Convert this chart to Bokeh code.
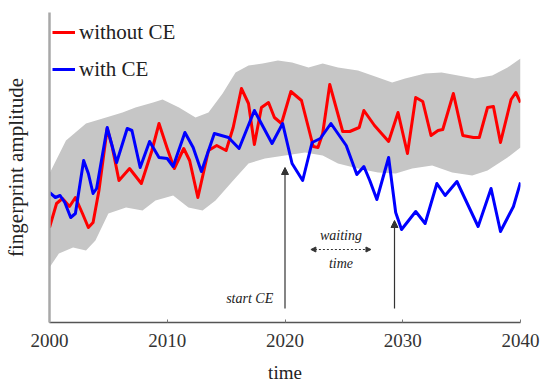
from bokeh.plotting import figure
from bokeh.models import Range1d, FixedTicker, Legend, LegendItem, Arrow, NormalHead, Label
from bokeh.embed import file_html
from bokeh.resources import INLINE

# ---------------- data ----------------
red_years = [2000.0, 2000.6, 2001.1, 2001.7, 2002.2, 2002.8, 2003.3, 2003.7, 2004.2, 2004.9,
             2005.3, 2005.9, 2006.8, 2007.8, 2008.7, 2009.3, 2010.0, 2010.6, 2011.4, 2011.9,
             2012.6, 2013.5, 2014.2, 2015.0, 2015.6, 2016.3, 2016.9, 2017.4, 2018.0, 2018.6,
             2019.1, 2019.7, 2020.5, 2021.4, 2022.4, 2022.8, 2023.2, 2023.8, 2024.9, 2025.5,
             2026.3, 2026.7, 2027.6, 2028.8, 2029.6, 2030.4, 2031.1, 2031.7, 2032.4, 2033.0,
             2033.4, 2034.3, 2035.1, 2036.0, 2036.5, 2037.2, 2037.7, 2038.3, 2039.2, 2039.6,
             2040.0]
red_vals = [9.5, 11.9, 12.4, 11.6, 12.5, 10.9, 9.5, 10.0, 13.2, 19.4,
            17.7, 14.2, 15.4, 13.9, 17.2, 19.9, 17.4, 15.4, 17.4, 16.2,
            12.5, 17.2, 17.7, 17.2, 19.5, 23.4, 21.9, 17.8, 21.5, 22.0,
            20.5, 19.9, 23.1, 22.2, 17.6, 17.5, 18.9, 23.8, 19.1, 19.1,
            19.5, 21.2, 19.7, 18.1, 21.0, 16.9, 22.5, 22.1, 18.7, 19.2,
            19.3, 22.9, 18.7, 18.5, 18.5, 21.5, 21.6, 18.0, 22.3, 23.0,
            22.0]

blue_years = [2000.0, 2000.5, 2000.9, 2001.3, 2001.8, 2002.2, 2002.9, 2003.3, 2003.7, 2004.0,
              2004.9, 2005.7, 2006.6, 2007.0, 2007.7, 2008.5, 2009.3, 2010.0, 2010.5, 2011.5,
              2012.2, 2012.9, 2014.0, 2015.2, 2016.1, 2017.4, 2018.9, 2019.8, 2020.6, 2021.5,
              2022.3, 2023.0, 2023.9, 2025.2, 2026.1, 2026.7, 2027.2, 2027.8, 2028.8, 2029.4,
              2029.9, 2031.1, 2031.9, 2032.9, 2033.6, 2034.6, 2036.4, 2037.5, 2038.3, 2039.4,
              2040.0]
blue_vals = [13.0, 12.5, 12.7, 12.0, 10.5, 10.9, 16.2, 14.9, 12.9, 13.4,
             19.5, 16.0, 19.4, 19.2, 15.5, 18.1, 16.5, 16.4, 15.6, 19.0,
             17.5, 15.1, 18.9, 18.5, 17.4, 21.2, 17.9, 19.9, 15.9, 14.2,
             18.0, 18.4, 19.9, 17.7, 14.8, 15.6, 14.2, 12.3, 16.5, 11.0,
             9.3, 11.1, 9.9, 13.9, 12.7, 14.1, 9.6, 13.4, 9.1, 11.6,
             14.0]

band_upper_years = [2000.0, 2001.4, 2003.1, 2004.8, 2006.2, 2007.3, 2008.8, 2009.6, 2011.0, 2012.4,
                    2013.5, 2014.7, 2015.8, 2016.9, 2018.1, 2019.4, 2020.6, 2022.0, 2023.2, 2024.5,
                    2026.2, 2027.9, 2029.1, 2030.2, 2031.9, 2033.3, 2034.7, 2036.1, 2037.6, 2038.9,
                    2040.0]
band_upper = [14.9, 18.2, 19.9, 20.5, 21.0, 21.5, 22.0, 22.3, 21.5, 20.5,
              21.0, 22.9, 25.0, 25.7, 25.9, 26.2, 26.0, 25.5, 25.9, 25.5,
              25.2, 24.5, 24.0, 24.4, 24.9, 25.0, 24.7, 24.4, 24.7, 25.5,
              26.4]

band_lower_years = [2000.0, 2000.8, 2002.0, 2003.1, 2003.9, 2005.0, 2006.5, 2007.9, 2009.0, 2010.5,
                    2011.8, 2013.0, 2014.1, 2015.6, 2016.9, 2018.3, 2020.0, 2021.7, 2023.2, 2024.5,
                    2026.2, 2027.9, 2029.4, 2030.8, 2032.5, 2034.2, 2035.9, 2037.2, 2038.9, 2040.0]
band_lower = [5.5, 6.9, 7.5, 7.2, 8.2, 10.9, 11.5, 11.2, 12.2, 12.7,
              11.5, 11.2, 12.2, 14.2, 15.9, 16.4, 16.7, 17.0, 16.7, 15.9,
              15.4, 15.0, 14.9, 15.4, 15.7, 15.0, 14.7, 15.2, 16.5, 17.5]

x_ticks = [2000, 2010, 2020, 2030, 2040]
series_labels = ["without CE", "with CE"]

ce_start_year = 2020.0
detect_year = 2029.3
arrow_base = 1.4
ce_arrow_top = 15.5
detect_arrow_top = 10.2
wait_arrow_y = 7.3
wait_arrow_x = [2022.2, 2027.3]

SERIF = "Liberation Serif"

# ---------------- figure ----------------
p = figure(width=541, height=385, output_backend="svg", toolbar_location=None,
           x_range=Range1d(2000, 2040), y_range=Range1d(0, 31),
           min_border_left=48, min_border_right=21, min_border_top=12, min_border_bottom=63)
p.outline_line_color = None
p.xgrid.visible = False
p.ygrid.visible = False
p.background_fill_color = "white"

# band
p.patch(band_upper_years + band_lower_years[::-1], band_upper + band_lower[::-1],
        fill_color="#c6c6c6", line_color=None)

r_red = p.line(red_years, red_vals, line_color="#ff0000", line_width=3, line_join="round")
r_blue = p.line(blue_years, blue_vals, line_color="#0000ff", line_width=3, line_join="round")

# axes
xa = p.xaxis[0]
xa.ticker = FixedTicker(ticks=x_ticks)
xa.axis_line_color = "#555555"
xa.axis_line_width = 1.5
xa.major_tick_line_color = "#777777"
xa.major_tick_in = 3
xa.major_tick_out = 0
xa.minor_tick_line_color = None
xa.major_label_text_font = SERIF
xa.major_label_text_font_size = "19px"
xa.major_label_text_color = "#333333"
xa.major_label_standoff = 11
xa.axis_label = "time"
xa.axis_label_text_font = SERIF
xa.axis_label_text_font_size = "19px"
xa.axis_label_text_font_style = "normal"
xa.axis_label_text_color = "#222222"
xa.axis_label_standoff = 12

ya = p.yaxis[0]
ya.ticker = FixedTicker(ticks=[])
ya.axis_line_color = "#a8a8a8"
ya.axis_line_width = 2.5
ya.major_tick_line_color = None
ya.minor_tick_line_color = None
ya.major_label_text_font_size = "0px"
ya.major_label_standoff = 0
ya.axis_label = "fingerprint amplitude"
ya.axis_label_text_font = SERIF
ya.axis_label_text_font_size = "21px"
ya.axis_label_text_font_style = "normal"
ya.axis_label_text_color = "#222222"
ya.axis_label_standoff = 22

# legend
legend = Legend(items=[LegendItem(label=series_labels[0], renderers=[r_red]),
                       LegendItem(label=series_labels[1], renderers=[r_blue])],
                location=(3, 239), margin=0, padding=8, spacing=9,
                label_height=28, glyph_height=28, glyph_width=23, label_standoff=4,
                label_text_font=SERIF, label_text_font_size="21px", label_text_color="#222222",
                border_line_color=None, background_fill_alpha=0)
p.add_layout(legend)

# annotations
ann_col = "#333333"
p.add_layout(Arrow(end=NormalHead(size=7, fill_color=ann_col, line_color=ann_col),
                   x_start=ce_start_year, y_start=arrow_base, x_end=ce_start_year, y_end=ce_arrow_top,
                   line_color=ann_col, line_width=1.2))
p.add_layout(Arrow(end=NormalHead(size=7, fill_color=ann_col, line_color=ann_col),
                   x_start=detect_year, y_start=arrow_base, x_end=detect_year, y_end=detect_arrow_top,
                   line_color=ann_col, line_width=1.2))
p.add_layout(Arrow(start=NormalHead(size=5, fill_color=ann_col, line_color=ann_col),
                   end=NormalHead(size=5, fill_color=ann_col, line_color=ann_col),
                   x_start=wait_arrow_x[0], y_start=wait_arrow_y, x_end=wait_arrow_x[1], y_end=wait_arrow_y,
                   line_color=ann_col, line_width=1, line_dash="2 2"))

mid = (wait_arrow_x[0] + wait_arrow_x[1]) / 2
p.add_layout(Label(x=ce_start_year - 1.0, y=2.4, text="start CE", text_align="right",
                   text_baseline="middle", text_font=SERIF, text_font_style="italic",
                   text_font_size="14px", text_color="#222222"))
p.add_layout(Label(x=mid, y=8.7, text="waiting", text_align="center",
                   text_baseline="middle", text_font=SERIF, text_font_style="italic",
                   text_font_size="14px", text_color="#222222"))
p.add_layout(Label(x=mid, y=5.9, text="time", text_align="center",
                   text_baseline="middle", text_font=SERIF, text_font_style="italic",
                   text_font_size="14px", text_color="#222222"))

open("out.html", "w").write(file_html(p, INLINE))
